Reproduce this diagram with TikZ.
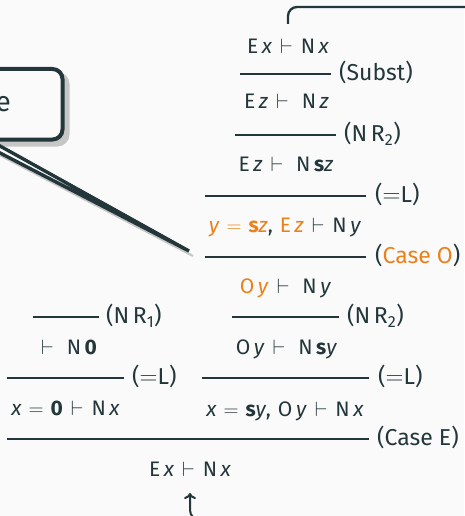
\documentclass[tikz,border=0pt]{standalone}
\usepackage{fontspec}
\setmainfont{Fira Sans}
\usetikzlibrary{arrows.meta}
\definecolor{mtext}{HTML}{23373B}
\definecolor{morange}{HTML}{EB811B}
\definecolor{mbg}{HTML}{FAFAFA}
\definecolor{mshadow}{HTML}{C6C6C6}
\newcommand{\V}[1]{\textit{#1}}
\newcommand{\Vd}{\ensuremath{\vdash}}
\newcommand{\Eq}{\ensuremath{=}}
\newcommand{\spA}{\hspace{3.5pt}}
\newcommand{\spB}{\hspace{8pt}}
\newcommand{\spC}{\hspace{13pt}}
\newcommand{\spE}{\hspace{7pt}}
\begin{document}
\begin{tikzpicture}[x=1pt,y=-1pt,
  fml/.style={font=\fontsize{21}{25}\selectfont, text=mtext, inner sep=0pt, anchor=base},
  lbl/.style={font=\fontsize{23}{27}\selectfont, text=mtext, inner sep=0pt, anchor=west},
  infline/.style={draw=mtext, line width=1.6pt},
  linkline/.style={draw=mtext, line width=2.3pt, rounded corners=9pt}]
\useasboundingbox (0,0) rectangle (464,516);
\fill[mbg] (0,0) rectangle (464,516);

% callout
\fill[mshadow, rounded corners=12pt] (-57,72) rectangle (69.5,146.5);
\draw[mshadow, line width=2pt] (-18,146) -- (193,256) -- (-4,146);
\draw[draw=mtext, fill=mbg, line width=3.4pt, line join=miter] (-23,141) -- (189,251) -- (-9,141);
\draw[draw=mtext, fill=mbg, line width=4pt, rounded corners=10pt] (-60,69) rectangle (62.5,139.5);
\node[font=\fontsize{28}{32}\selectfont, text=mtext, anchor=base east, inner sep=0pt] (ce) at (11,112) {e};

% right branch
\node[fml] (r1) at (288,54) {E\spA\V{x}\spB\Vd\spB N\spA\V{x}};
\draw[infline] (240,74) -- (331,74);
\node[lbl] (n1) at (339,72) {(Subst)};
\node[fml] (r2) at (286.5,109) {E\spA\V{z}\spB\Vd\spC N\spA\V{z}};
\draw[infline] (235,135) -- (336,135);
\node[lbl] (n2) at (344,133.5) {(N\spA R\textsubscript{2})};
\node[fml] (r3) at (286,171) {E\spA\V{z}\spB\Vd\spC N\spA\textbf{s}\V{z}};
\draw[infline] (205,196) -- (366,196);
\node[lbl] (n3) at (375,194.5) {(\Eq L)};
\node[fml] (r4) at (285,232) {\textcolor{morange}{\V{y}\spE\Eq\spE\textbf{s}\V{z}},\spE\textcolor{morange}{E\spA\V{z}}\spB\Vd\spB N\spA\V{y}};
\draw[infline] (205,257) -- (366,257);
\node[lbl] (n4) at (375,255.5) {(\textcolor{morange}{Case O})};
\node[fml] (r5) at (285.5,293) {\textcolor{morange}{O\spA\V{y}}\spB\Vd\spC N\spA\V{y}};
\draw[infline] (232,317) -- (339,317);
\node[lbl] (n5) at (347,315.5) {(N\spA R\textsubscript{2})};
\node[fml] (r6) at (286.5,354) {O\spA\V{y}\spB\Vd\spC N\spA\textbf{s}\V{y}};
\draw[infline] (202,378) -- (369,378);
\node[lbl] (n6) at (378,376.5) {(\Eq L)};
\node[fml] (r7) at (285,416) {\V{x}\spE\Eq\spE\textbf{s}\V{y},\spE O\spA\V{y}\spB\Vd\spB N\spA\V{x}};

% left branch
\draw[infline] (33,317) -- (99,317);
\node[lbl] (m1) at (106,315.5) {(N\spA R\textsubscript{1})};
\node[fml] (l1) at (69,354) {\Vd\spC N\spA\textbf{0}};
\draw[infline] (7,378) -- (124,378);
\node[lbl] (m2) at (132,376.5) {(\Eq L)};
\node[fml] (l2) at (65.5,415) {\V{x}\spE\Eq\spE\textbf{0}\spB\Vd\spB N\spA\V{x}};

% root
\draw[infline] (7,439) -- (369,439);
\node[lbl] (n7) at (377,437.5) {(Case E)};
\node[fml] (r8) at (190,476) {E\spA\V{x}\spB\Vd\spB N\spA\V{x}};

% loop links
\coordinate (topstart) at (288,24);
\coordinate (topend) at (480,7);
\draw[linkline] (topstart) |- (topend);
\coordinate (botstart) at (320,520);
\coordinate (botend) at (190,493);
\draw[linkline, line width=2pt, rounded corners=10pt, -{Computer Modern Rightarrow[length=6pt,width=12pt]}] (botstart) -| (botend);
\end{tikzpicture}
\end{document}
